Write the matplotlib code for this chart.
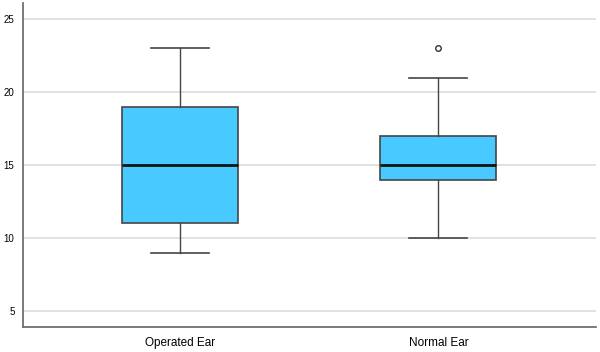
import matplotlib.pyplot as plt
from matplotlib.cbook import boxplot_stats

# Box summary values
groups = ['Operated Ear', 'Normal Ear']
whislo = [9, 10]
q1 = [11, 14]
med = [15, 15]
q3 = [19, 17]
whishi = [23, 21]
fliers = [[], [23]]
yticks = [5, 10, 15, 20, 25]

stats = []
for i in range(len(groups)):
    stats.append({'label': groups[i], 'whislo': whislo[i], 'q1': q1[i], 'med': med[i],
                  'q3': q3[i], 'whishi': whishi[i], 'fliers': fliers[i]})

fig = plt.figure(figsize=(6, 3.52), dpi=100)
ax = fig.add_axes([0.038, 0.071, 0.955, 0.92])

edge = '#454545'
ax.bxp(stats, positions=[0, 1], widths=0.45, patch_artist=True,
       boxprops=dict(facecolor='#48C9FF', edgecolor=edge, linewidth=1.2),
       medianprops=dict(color='#111111', linewidth=2),
       whiskerprops=dict(color=edge, linewidth=1),
       capprops=dict(color=edge, linewidth=1.2),
       capwidths=0.225,
       flierprops=dict(marker='o', markersize=4, markerfacecolor='white',
                       markeredgecolor='#333333', markeredgewidth=1),
       zorder=3)

ax.set_xlim(-0.61, 1.61)
ax.set_ylim(3.9, 26.1)
ax.set_yticks(yticks)
ax.set_yticklabels([str(t) for t in yticks], fontsize=7, family='Liberation Sans')
ax.set_xticks([0, 1])
ax.set_xticklabels(groups, fontsize=8.5, family='Liberation Sans')
ax.tick_params(axis='both', length=0)
ax.tick_params(axis='y', pad=6)
ax.tick_params(axis='x', pad=7)
ax.grid(axis='y', color='#dcdcdc', linewidth=1.2, zorder=0)
ax.set_axisbelow(True)

for s in ['top', 'right']:
    ax.spines[s].set_visible(False)
for s in ['left', 'bottom']:
    ax.spines[s].set_color('#707070')
    ax.spines[s].set_linewidth(1.3)

fig.savefig('out.png', dpi=100)
